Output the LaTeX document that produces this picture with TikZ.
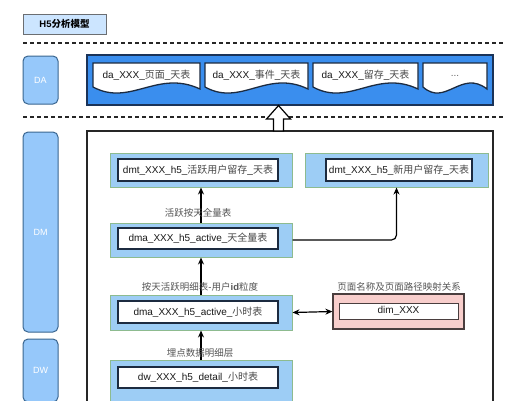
\documentclass[tikz,border=0pt]{standalone}
\usepackage{fontspec}
\setmainfont{Liberation Sans}
\newfontfamily\cjk{Noto Sans CJK SC}
\usetikzlibrary{arrows.meta}
\definecolor{titlefill}{HTML}{CCE5FF}
\definecolor{titleborder}{HTML}{6B6E72}
\definecolor{laneblue}{HTML}{96C8FA}
\definecolor{laneborder}{HTML}{3A6690}
\definecolor{dablue}{HTML}{3A8EEE}
\definecolor{daborder}{HTML}{1A3358}
\definecolor{grpblue}{HTML}{9DCDF5}
\definecolor{grpgreen}{HTML}{8DBB8F}
\definecolor{navy}{HTML}{1C2B40}
\definecolor{pinkfill}{HTML}{F8CECC}
\definecolor{pinkborder}{HTML}{4A3E3E}
\definecolor{labelgray}{HTML}{555555}
\newcommand\cn[1]{{\cjk\color{black!72}#1}}
\newcommand\cnl[1]{{\cjk #1}}
\tikzset{
  lane/.style={rounded corners=5pt, fill=laneblue, draw=laneborder, line width=1pt, text=white, font=\fontsize{9}{11}\selectfont, inner sep=0pt},
  grp/.style={fill=grpblue, draw=grpgreen, line width=1pt, inner sep=0pt},
  inbox/.style={fill=white, draw=navy, line width=1.4pt, font=\fontsize{10}{12}\selectfont, inner sep=0pt, text=black!90},
  lbl/.style={text=labelgray, font=\fontsize{9.5}{11}\selectfont, inner sep=0pt},
  arr/.style={draw=black, line width=1.2pt, -{Stealth[length=7pt,width=6pt]}},
  darr/.style={draw=black, line width=1.2pt, {Stealth[length=7pt,width=6pt]}-{Stealth[length=7pt,width=6pt]}},
  docst/.style={fill=white, draw=navy, line width=1.3pt},
  doctext/.style={font=\fontsize{10}{12}\selectfont, inner sep=0pt, text=black!90},
  sep/.style={draw=black!85, line width=1.3pt, dash pattern=on 4pt off 3pt},
}
\begin{document}
\begin{tikzpicture}[x=1pt,y=-1pt]
\useasboundingbox (0,0) rectangle (518,400);
\clip (0,0) rectangle (518,400);
\fill[white] (0,0) rectangle (518,400);

% title
\node[fill=titlefill, draw=titleborder, line width=0.9pt, minimum width=83pt, minimum height=20pt, inner sep=0pt, font=\bfseries\fontsize{9.5}{11}\selectfont] (title) at (64.5,24) {H5{\cjk 分析模型}};

% separators
\coordinate (s1a) at (23,43); \coordinate (s1b) at (503,43);
\coordinate (s2a) at (23,117); \coordinate (s2b) at (503,117);
\draw[sep] (s1a) -- (s1b);
\draw[sep] (s2a) -- (s2b);

% lanes
\node[lane, minimum width=35pt, minimum height=48pt] (da) at (40.5,80) {DA};
\node[lane, minimum width=35pt, minimum height=200pt] (dm) at (40.5,232) {DM};
\node[lane, minimum width=35pt, minimum height=63pt] (dw) at (40.5,370.5) {DW};

% DA container
\node[fill=dablue, draw=daborder, line width=1.3pt, minimum width=406pt, minimum height=50pt, inner sep=0pt] (dabox) at (290,80) {};

% documents
\foreach \xa/\xb/\nm in {93/200/d1, 205/308/d2, 313/418/d3, 423/487/d4}{
  \pgfmathsetmacro\w{\xb-\xa}
  \draw[docst] (\xa,63) -- (\xb,63) -- (\xb,89)
    .. controls ({\xa+0.6*\w},69) and ({\xa+0.35*\w},107) .. (\xa,87) -- cycle;
}
\node[doctext] (d1t) at (146.5,75) {da\_XXX\_\cn{页面}\_\cn{天表}};
\node[doctext] (d2t) at (256.5,75) {da\_XXX\_\cn{事件}\_\cn{天表}};
\node[doctext] (d3t) at (365.5,75) {da\_XXX\_\cn{留存}\_\cn{天表}};
\node[doctext, text=black!60] (d4t) at (455,76) {...};

% main frame
\node[fill=white, draw=black!85, line width=1.3pt, minimum width=406pt, minimum height=290pt, inner sep=0pt] (frame) at (290,276) {};

% block arrow from frame to DA
\coordinate (ba1) at (273.5,131);
\draw[fill=white, draw=black, line width=1.2pt, line join=miter]
  (ba1) -- (273.5,119) -- (266.5,119) -- (278.5,105.5) -- (290.5,119) -- (283.5,119) -- (283.5,131) -- cycle;

% groups
\node[grp, minimum width=182pt, minimum height=34pt] (g1) at (201,170) {};
\node[inbox, minimum width=160pt, minimum height=22pt] (t1) at (198,170) {dmt\_XXX\_h5\_\cn{活跃用户留存}\_\cn{天表}};

\node[grp, minimum width=183pt, minimum height=34pt] (g2) at (396.5,170) {};
\node[inbox, minimum width=146pt, minimum height=22pt] (t2) at (399,170) {dmt\_XXX\_h5\_\cn{新用户留存}\_\cn{天表}};

\node[grp, minimum width=182pt, minimum height=34pt] (g3) at (201,240) {};
\node[inbox, minimum width=160pt, minimum height=21pt] (t3) at (198,238.5) {dma\_XXX\_h5\_active\_\cn{天全量表}};

\node[grp, minimum width=182pt, minimum height=35pt] (g4) at (201,312.5) {};
\node[inbox, minimum width=160pt, minimum height=22pt] (t4) at (198,312) {dma\_XXX\_h5\_active\_\cn{小时表}};

\node[fill=pinkfill, draw=pinkborder, line width=1.2pt, minimum width=131pt, minimum height=35pt, inner sep=0pt] (g5) at (398.5,311.5) {};
\node[fill=white, draw=pinkborder, line width=1pt, minimum width=119pt, minimum height=16pt, inner sep=0pt, font=\fontsize{10}{12}\selectfont, text=black!90] (t5) at (398.5,311) {dim\_XXX};

\node[grp, minimum width=182pt, minimum height=60pt] (g6) at (201,390) {};
\node[inbox, minimum width=160pt, minimum height=21pt] (t6) at (198,377.5) {dw\_XXX\_h5\_detail\_\cn{小时表}};

% arrows
\draw[arr] (g3.north) -- (g1.south);
\draw[arr] (g4.north) -- (g3.south);
\draw[arr] (g6.north) -- (g4.south);
\draw[arr, rounded corners=5pt] (g3.east) -| (g2.south);
\draw[darr] (g4.east) -- (g5.west);

% labels
\node[lbl] (l1) at (198,213) {\cnl{活跃按天全量表}};
\node[lbl] (l2) at (200,287) {\cnl{按天活跃明细表}-\cnl{用户}\textbf{id}\cnl{粒度}};
\node[lbl] (l3) at (200,353) {\cnl{埋点数据明细层}};
\node[lbl] (l4) at (399,287) {\cnl{页面名称及页面路径映射关系}};
\end{tikzpicture}
\end{document}
